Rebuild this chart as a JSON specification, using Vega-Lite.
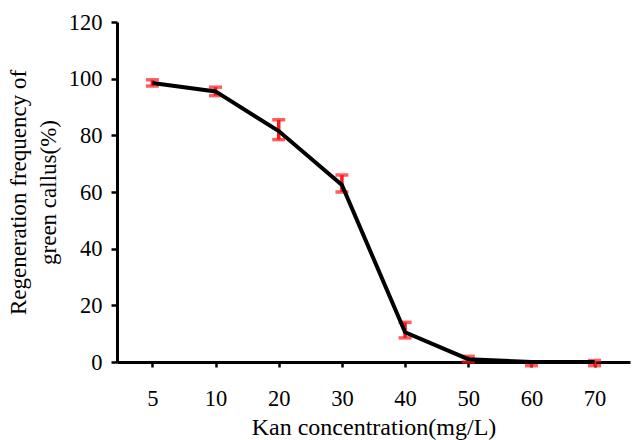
{
  "$schema": "https://vega.github.io/schema/vega-lite/v6.json",
  "width": 513,
  "height": 340,
  "autosize": "none",
  "padding": {"left": 117, "top": 22, "right": 2, "bottom": 78},
  "background": "white",
  "config": {
    "view": {"stroke": null},
    "font": "Liberation Serif",
    "axis": {"labelFont": "Liberation Serif", "titleFont": "Liberation Serif", "labelColor": "#000", "titleColor": "#000", "titleFontWeight": "normal", "grid": false}
  },
  "data": {"values": [
    {"conc": "5", "mean": 98.5, "lo": 97.4, "hi": 99.6},
    {"conc": "10", "mean": 95.5, "lo": 94.0, "hi": 97.0},
    {"conc": "20", "mean": 81.5, "lo": 78.5, "hi": 85.5},
    {"conc": "30", "mean": 62.5, "lo": 60.0, "hi": 66.0},
    {"conc": "40", "mean": 10.5, "lo": 8.5, "hi": 14.0},
    {"conc": "50", "mean": 1.0, "lo": 0.0, "hi": 2.0},
    {"conc": "60", "mean": 0.0, "lo": -1.3, "hi": 0.0},
    {"conc": "70", "mean": 0.0, "lo": -1.3, "hi": 0.5}
  ]},
  "encoding": {
    "x": {
      "field": "conc", "type": "ordinal", "sort": null,
      "scale": {"type": "point", "padding": 0.56},
      "axis": {
        "title": "Kan concentration(mg/L)", "labelAngle": 0, "labelFontSize": 22.5, "titleFontSize": 24,
        "domainColor": "#000", "domainWidth": 3, "tickColor": "#000", "tickWidth": 2.5, "tickSize": 5,
        "labelPadding": 20, "titlePadding": 6
      }
    }
  },
  "layer": [
    {
      "mark": {"type": "rule", "color": "#ff1a1a", "strokeWidth": 3.5},
      "encoding": {
        "y": {"field": "lo", "type": "quantitative"},
        "y2": {"field": "hi"}
      }
    },
    {
      "mark": {"type": "tick", "color": "#ff1a1a", "thickness": 3.5, "size": 13, "orient": "horizontal"},
      "encoding": {"y": {"field": "lo", "type": "quantitative"}}
    },
    {
      "mark": {"type": "tick", "color": "#ff1a1a", "thickness": 3.5, "size": 13, "orient": "horizontal"},
      "encoding": {"y": {"field": "hi", "type": "quantitative"}}
    },
    {
      "mark": {"type": "line", "color": "#000", "strokeWidth": 4},
      "encoding": {
        "y": {
          "field": "mean", "type": "quantitative",
          "scale": {"domain": [0, 120], "nice": false, "zero": false},
          "axis": {
            "title": ["Regeneration frequency of", "green callus(%)"],
            "values": [0, 20, 40, 60, 80, 100, 120],
            "labelFontSize": 22.5, "titleFontSize": 23, "titleLineHeight": 30,
            "domainColor": "#000", "domainWidth": 3, "tickColor": "#000", "tickWidth": 2.5, "tickSize": 6,
            "labelPadding": 9, "titlePadding": 8
          }
        }
      }
    }
  ],
  "resolve": {"scale": {"y": "shared"}}
}
